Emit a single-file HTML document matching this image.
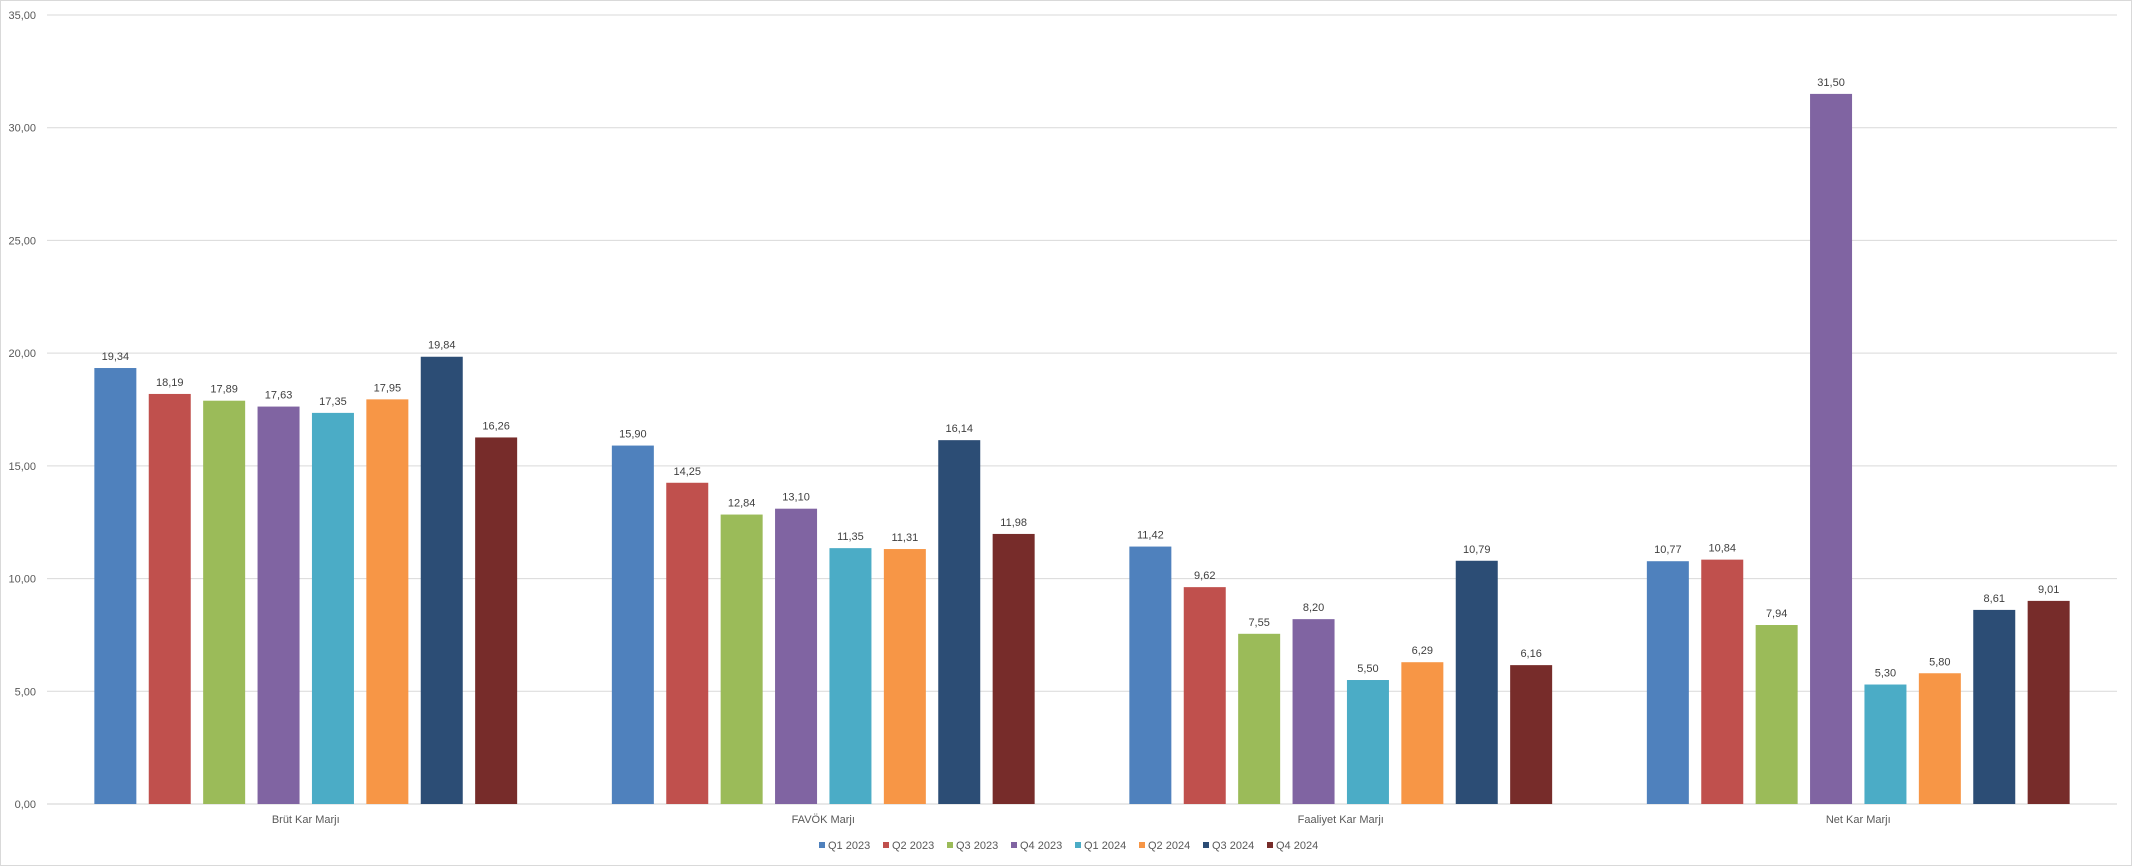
<!DOCTYPE html>
<html><head><meta charset="utf-8"><style>
html,body{margin:0;padding:0;background:#fff;}
svg{display:block;font-family:"Liberation Sans",sans-serif;}
</style></head><body>
<svg id="chart" width="2132" height="866" viewBox="0 0 2132 866">
<rect x="0.5" y="0.5" width="2131" height="865" fill="#fff" stroke="#d9d9d9"/>
<g id="grid"></g><g id="bars"></g><g id="labels"></g><g id="legend"></g>
</svg>
<script>
const categories = ["Brüt Kar Marjı","FAVÖK Marjı","Faaliyet Kar Marjı","Net Kar Marjı"];
const seriesNames = ["Q1 2023","Q2 2023","Q3 2023","Q4 2023","Q1 2024","Q2 2024","Q3 2024","Q4 2024"];
const q1_2023 = [19.34,15.90,11.42,10.77];
const q2_2023 = [18.19,14.25,9.62,10.84];
const q3_2023 = [17.89,12.84,7.55,7.94];
const q4_2023 = [17.63,13.10,8.20,31.50];
const q1_2024 = [17.35,11.35,5.50,5.30];
const q2_2024 = [17.95,11.31,6.29,5.80];
const q3_2024 = [19.84,16.14,10.79,8.61];
const q4_2024 = [16.26,11.98,6.16,9.01];
const yTicks = [0,5,10,15,20,25,30,35];
const colors = ["#4f81bd","#c0504d","#9bbb59","#8064a2","#4bacc6","#f79646","#2c4d75","#772c2a"];
const seriesData = [q1_2023,q2_2023,q3_2023,q4_2023,q1_2024,q2_2024,q3_2024,q4_2024];

const NS="http://www.w3.org/2000/svg";
const plotL=47, plotR=2117, y0=804, yTop=15, yMax=35;
const y = v => y0 - (v/yMax)*(y0-yTop);
const groupW=(plotR-plotL)/categories.length;
const pitch=54.4, barW=42;
const x = (ci,si) => plotL + groupW*ci + groupW/2 - (7*pitch+barW)/2 + si*pitch;
const fmt = v => v.toFixed(2).replace('.',',');
function mk(tag,attrs,parent){const e=document.createElementNS(NS,tag);for(const k in attrs)e.setAttribute(k,attrs[k]);parent.appendChild(e);return e;}
const grid=document.getElementById('grid'), bars=document.getElementById('bars'), labels=document.getElementById('labels'), legend=document.getElementById('legend');

yTicks.forEach(t=>{
  const l=mk('line',{x1:plotL,x2:plotR,y1:y(t),y2:y(t),stroke:t===0?'#d0d0d0':'#d9d9d9','stroke-width':1},grid);
  
  
  const tx=mk('text',{x:36,y:y(t)+4,'text-anchor':'end','font-size':11,fill:'#595959'},grid);
  tx.textContent=fmt(t);
  
  
});
categories.forEach((c,ci)=>{
  const tx=mk('text',{x:plotL+groupW*ci+groupW/2,y:823,'text-anchor':'middle','font-size':11,fill:'#595959'},labels);
  tx.textContent=c;
  
  
  seriesData.forEach((arr,si)=>{
    const v=arr[ci];
    const r=mk('rect',{x:x(ci,si),y:y(v),width:barW,height:y0-y(v),fill:colors[si]},bars);
    
    
    const t=mk('text',{x:x(ci,si)+barW/2,y:y(v)-8,'text-anchor':'middle','font-size':11,fill:'#404040'},labels);
    t.textContent=fmt(v);
    
    
  });
});
seriesNames.forEach((n,si)=>{
  const lx=819+si*64;
  const g=mk('g',{},legend);
  
  
  mk('rect',{x:lx,y:842,width:6,height:6,fill:colors[si]},g);
  const t=mk('text',{x:lx+9,y:849,'font-size':11,fill:'#595959'},g);
  t.textContent=n;
});
</script>
</body></html>
